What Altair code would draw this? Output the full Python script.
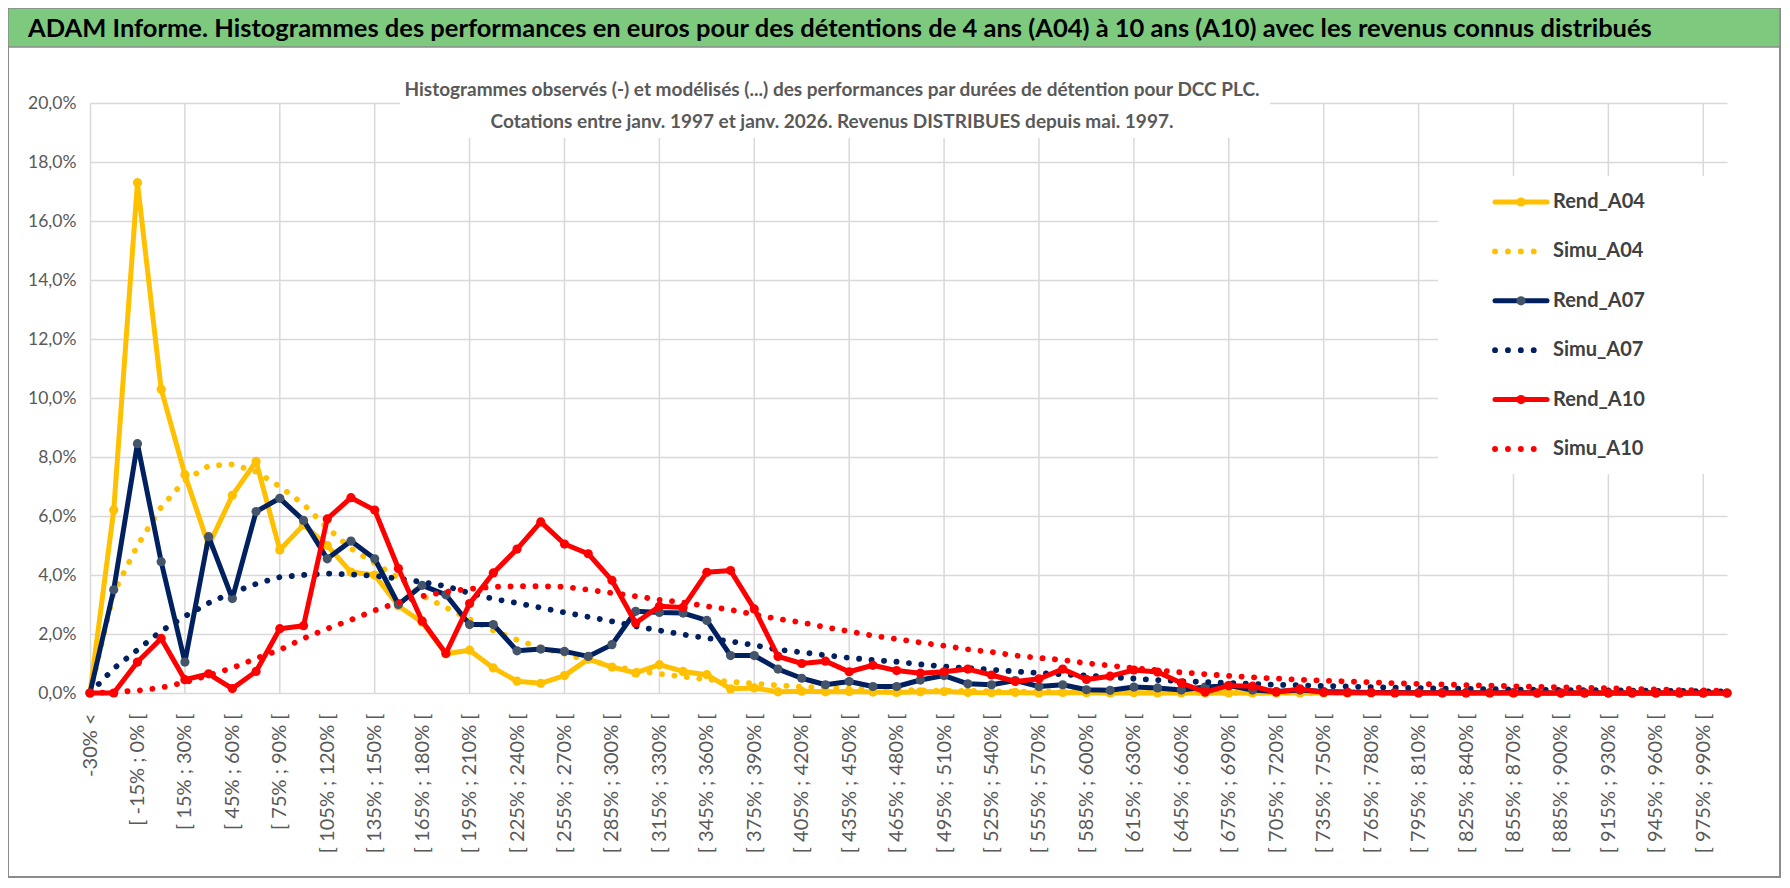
import altair as alt
import pandas as pd

# ---------------- data ----------------
categories = ["-30% <"] + [f"[ {lo}% ; {lo + 15}% [" for lo in range(-30, 991, 15)]

rend_a04 = [0.0, 6.2, 17.3, 10.3, 7.4, 5.0, 6.7, 7.85, 4.85, 5.7,
            5.0, 4.1, 4.0, 2.95, 2.4, 1.33, 1.45, 0.85, 0.4, 0.33,
            0.59, 1.15, 0.88, 0.68, 0.96, 0.73, 0.62, 0.14, 0.17, 0.04,
            0.06, 0.04, 0.05, 0.03, 0.02, 0.04, 0.05, 0.02, 0.01, 0.02,
            0.0, 0.02, 0.01, 0.0, 0.01, 0.0, 0.0, 0.0, 0.0, 0.0,
            0.0, 0.0, 0.0, 0.0, 0.0, 0.0, 0.0, 0.0, 0.0, 0.0,
            0.0, 0.0, 0.0, 0.0, 0.0, 0.0, 0.0, 0.0, 0.0, 0.0]
simu_a04 = [0.0, 3.4, 5.0, 6.3, 7.2, 7.7, 7.75, 7.5, 7.0, 6.4,
            5.6, 4.9, 4.4, 3.9, 3.3, 2.9, 2.5, 2.12, 1.8, 1.53,
            1.33, 1.1, 0.92, 0.76, 0.65, 0.55, 0.46, 0.38, 0.32, 0.26,
            0.21, 0.18, 0.15, 0.13, 0.11, 0.09, 0.08, 0.07, 0.06, 0.05,
            0.045, 0.04, 0.035, 0.03, 0.025, 0.02, 0.02, 0.015, 0.01, 0.01,
            0.01, 0.01, 0.005, 0.005, 0.005, 0.0, 0.0, 0.0, 0.0, 0.0,
            0.0, 0.0, 0.0, 0.0, 0.0, 0.0, 0.0, 0.0, 0.0, 0.0]
rend_a07 = [0.0, 3.5, 8.45, 4.45, 1.05, 5.3, 3.2, 6.15, 6.6, 5.85,
            4.55, 5.15, 4.55, 3.0, 3.65, 3.33, 2.32, 2.32, 1.43, 1.49,
            1.41, 1.24, 1.64, 2.77, 2.73, 2.71, 2.46, 1.27, 1.27, 0.81,
            0.5, 0.28, 0.39, 0.22, 0.22, 0.44, 0.59, 0.31, 0.28, 0.42,
            0.22, 0.28, 0.11, 0.09, 0.2, 0.17, 0.1, 0.2, 0.25, 0.1,
            0.05, 0.1, 0.05, 0.03, 0.02, 0.02, 0.01, 0.01, 0.01, 0.01,
            0.01, 0.0, 0.0, 0.0, 0.0, 0.0, 0.0, 0.0, 0.0, 0.0]
simu_a07 = [0.0, 0.83, 1.46, 2.1, 2.6, 3.05, 3.4, 3.7, 3.93, 4.0,
            4.05, 4.02, 3.97, 3.88, 3.76, 3.62, 3.39, 3.19, 3.05, 2.89,
            2.73, 2.58, 2.43, 2.26, 2.12, 1.98, 1.86, 1.75, 1.62, 1.47,
            1.38, 1.28, 1.19, 1.12, 1.06, 0.97, 0.9, 0.84, 0.79, 0.73,
            0.68, 0.63, 0.59, 0.54, 0.49, 0.44, 0.4, 0.37, 0.34, 0.31,
            0.28, 0.26, 0.24, 0.22, 0.2, 0.18, 0.17, 0.15, 0.14, 0.13,
            0.12, 0.11, 0.1, 0.095, 0.09, 0.08, 0.075, 0.07, 0.06, 0.05]
rend_a10 = [0.0, 0.0, 1.05, 1.85, 0.45, 0.65, 0.15, 0.73, 2.18, 2.28,
            5.9, 6.62, 6.2, 4.22, 2.44, 1.34, 3.03, 4.07, 4.88, 5.8,
            5.05, 4.72, 3.82, 2.37, 2.94, 2.9, 4.09, 4.15, 2.85, 1.24,
            1.0, 1.08, 0.72, 0.94, 0.76, 0.67, 0.72, 0.81, 0.61, 0.39,
            0.48, 0.81, 0.46, 0.57, 0.78, 0.71, 0.34, 0.03, 0.25, 0.23,
            0.03, 0.14, 0.02, 0.01, 0.01, 0.0, 0.0, 0.0, 0.0, 0.0,
            0.0, 0.0, 0.0, 0.0, 0.0, 0.0, 0.0, 0.0, 0.0, 0.0]
simu_a10 = [0.0, 0.03, 0.08, 0.18, 0.36, 0.6, 0.85, 1.17, 1.46, 1.85,
            2.18, 2.48, 2.8, 3.07, 3.28, 3.43, 3.53, 3.6, 3.62, 3.62,
            3.6, 3.5, 3.39, 3.28, 3.16, 3.07, 2.94, 2.82, 2.66, 2.51,
            2.39, 2.23, 2.09, 1.94, 1.83, 1.71, 1.6, 1.48, 1.39, 1.27,
            1.19, 1.12, 1.01, 0.93, 0.84, 0.77, 0.7, 0.64, 0.58, 0.53,
            0.49, 0.45, 0.42, 0.39, 0.36, 0.33, 0.31, 0.29, 0.27, 0.25,
            0.23, 0.21, 0.19, 0.18, 0.16, 0.14, 0.12, 0.1, 0.09, 0.07]

series_names = ["Rend_A04", "Simu_A04", "Rend_A07", "Simu_A07", "Rend_A10", "Simu_A10"]
series_values = [rend_a04, simu_a04, rend_a07, simu_a07, rend_a10, simu_a10]
y_ticks = [0, 2, 4, 6, 8, 10, 12, 14, 16, 18, 20]

title_text = ("ADAM Informe. Histogrammes des performances en euros pour des détentions "
              "de 4 ans (A04) à 10 ans (A10) avec les revenus connus distribués")
subtitle_1 = ("Histogrammes observés (-) et modélisés (...) des performances par durées "
              "de détention pour DCC PLC.")
subtitle_2 = "Cotations entre janv. 1997 et janv. 2026. Revenus DISTRIBUES depuis mai. 1997."

# ---------------- styles ----------------
line_colors = {"Rend_A04": "#FFC000", "Simu_A04": "#FFC000",
               "Rend_A07": "#002060", "Simu_A07": "#002060",
               "Rend_A10": "#FF0000", "Simu_A10": "#FF0000"}
marker_colors = {"Rend_A04": "#FFC000", "Rend_A07": "#44546A", "Rend_A10": "#FF0000"}
GRID = "#D9D9D9"
TXT = "#595959"
DOTS = [0.1, 12.4]
LW = 5
MS = 85

rows = []
for name, vals in zip(series_names, series_values):
    for i, (c, v) in enumerate(zip(categories, vals)):
        rows.append({"cat": c, "idx": i, "series": name, "value": v})
df = pd.DataFrame(rows)

W, H = 1637, 590

X = alt.X("cat:N", sort=categories,
          scale=alt.Scale(type="point", domain=categories, padding=0),
          axis=alt.Axis(values=categories[::2], title=None, labelAngle=270,
                        labelAlign="right", labelBaseline="middle", labelFontSize=20,
                        labelColor=TXT, labelPadding=20, ticks=False, domain=False,
                        grid=False, labelOverlap=False, labelLimit=300))
Y = alt.Y("value:Q", scale=alt.Scale(domain=[0, 20], nice=False, zero=True),
          axis=alt.Axis(values=y_ticks, title=None,
                        labelExpr="replace(format(datum.value, '.1f'), '.', ',') + '%'",
                        labelFontSize=17.5, labelColor=TXT, labelPadding=14, ticks=False,
                        domain=True, domainColor=GRID, domainWidth=1.5,
                        grid=True, gridColor=GRID, gridWidth=1.5))

grid_df = pd.DataFrame({"cat": categories[4::4]})
vgrid = alt.Chart(grid_df).mark_rule(color=GRID, strokeWidth=1.5).encode(x=X)

layers = [vgrid]
for name in series_names:
    base = alt.Chart(df).transform_filter(alt.datum.series == name)
    if name.startswith("Rend"):
        layers.append(base.mark_line(color=line_colors[name], strokeWidth=LW,
                                     strokeJoin="round", strokeCap="round")
                      .encode(x=X, y=Y, order="idx:Q"))
        layers.append(base.mark_circle(color=marker_colors[name], size=MS, opacity=1)
                      .encode(x=X, y=Y))
    else:
        layers.append(base.mark_line(color=line_colors[name], strokeWidth=5.8,
                                     strokeDash=DOTS, strokeCap="round")
                      .encode(x=X, y=Y, order="idx:Q"))
main = alt.layer(*layers)

# ---------------- overlay: titles, legend, frame ----------------
one = pd.DataFrame({"k": [0]})


def box(x1, x2, y1, y2, **kw):
    return alt.Chart(one).mark_rect(**kw).encode(
        x=alt.value(x1), x2=alt.value(x2), y=alt.value(y1), y2=alt.value(y2))


def label(txt, x, y, **kw):
    return alt.Chart(one).mark_text(**kw).encode(
        x=alt.value(x), y=alt.value(y), text=alt.value(txt))


leg_df = pd.DataFrame({"series": series_names})
LY = alt.Y("series:N", scale=alt.Scale(type="point", domain=series_names,
                                       range=[99, 346], padding=0), axis=None)
LC = alt.Color("series:N", scale=alt.Scale(domain=series_names,
                                           range=[line_colors[s] for s in series_names]),
               legend=None)
rend_names = [s for s in series_names if s.startswith("Rend")]
LF = alt.Fill("series:N", scale=alt.Scale(domain=rend_names,
                                          range=[marker_colors[s] for s in rend_names]),
              legend=None)

leg_solid = (alt.Chart(leg_df).transform_filter("indexof(datum.series, 'Rend') == 0")
             .mark_rule(strokeWidth=LW, strokeCap="round")
             .encode(x=alt.value(1405), x2=alt.value(1457), y=LY, color=LC))
leg_dot = (alt.Chart(leg_df).transform_filter("indexof(datum.series, 'Simu') == 0")
           .mark_rule(strokeWidth=5.8, strokeCap="round", strokeDash=[0.1, 12.8])
           .encode(x=alt.value(1405), x2=alt.value(1445), y=LY, color=LC))
leg_mark = (alt.Chart(leg_df).transform_filter("indexof(datum.series, 'Rend') == 0")
            .mark_circle(size=MS, opacity=1)
            .encode(x=alt.value(1431), y=LY, fill=LF))
leg_text = (alt.Chart(leg_df)
            .mark_text(align="left", baseline="middle", fontSize=20, fontWeight="bold",
                       color="#404040")
            .encode(x=alt.value(1463), y=LY, text="series:N"))

overlay = alt.layer(
    box(310, 1180, -37, 35, fill="white"),
    label(subtitle_1, 742, -7, align="center", baseline="alphabetic", fontSize=19,
          fontWeight="bold", color=TXT),
    label(subtitle_2, 742, 25, align="center", baseline="alphabetic", fontSize=19,
          fontWeight="bold", color=TXT),
    box(1348, 1640, 73, 371, fill="white"),
    leg_solid, leg_dot, leg_mark, leg_text,
    box(-82, 1690, -95, 774, fill="white", fillOpacity=0, stroke="#8C8C8C", strokeWidth=2),
    box(-82, 1690, -95, -56, fill="#7DC97E", stroke="#8C8C8C", strokeWidth=1.5),
    label(title_text, -62, -66, align="left", baseline="alphabetic", fontSize=25.5,
          fontWeight="bold", color="#000000"),
)

chart = (
    alt.layer(main, overlay)
    .resolve_scale(y="independent")
    .properties(width=W, height=H,
                padding={"left": 82, "top": 95, "right": 55, "bottom": 185},
                autosize=alt.AutoSizeParams(type="none"), background="white")
    .configure(font="Lato")
    .configure_view(strokeWidth=0)
)

chart.save("out.html", embed_options={"renderer": "svg", "actions": False})
